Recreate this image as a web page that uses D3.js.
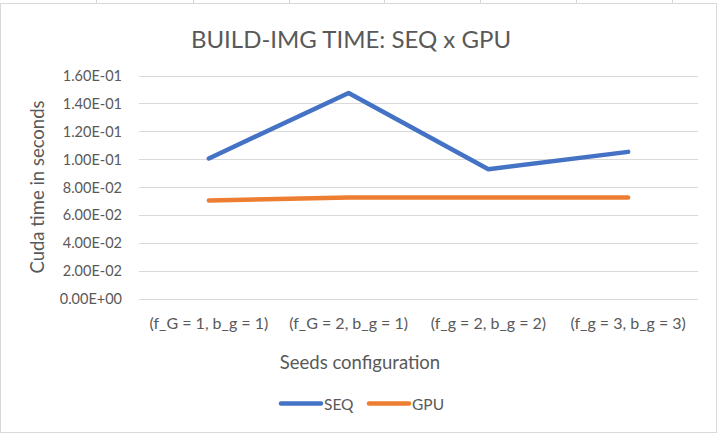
<!DOCTYPE html>
<html><head><meta charset="utf-8">
<script src="https://cdn.jsdelivr.net/npm/d3@7"></script>
<style>body{margin:0;background:#fff}svg{display:block}</style>
</head><body>
<script>
const categories = ["(f_G = 1, b_g = 1)", "(f_G = 2, b_g = 1)", "(f_g = 2, b_g = 2)", "(f_g = 3, b_g = 3)"];
const seqValues = [0.1005, 0.1475, 0.0928, 0.1052];
const gpuValues = [0.0704, 0.0725, 0.0725, 0.0725];
const yTicks = [0, 0.02, 0.04, 0.06, 0.08, 0.10, 0.12, 0.14, 0.16];
const seriesNames = ["SEQ", "GPU"];
const colors = ["#4472C4", "#ED7D31"];

const W = 721, H = 434;
const svg = d3.select("body").append("svg").attr("width", W).attr("height", H);
const font = "Lato, 'Open Sans', sans-serif";
const txt = "#595959";

// chart border
svg.append("rect").attr("x", 0.5).attr("y", 3.5).attr("width", W - 5).attr("height", H - 5)
  .attr("fill", "#fff").attr("stroke", "#d9d9d9");
// faint spreadsheet cell lines at top
[96, 193, 289, 384, 480, 576, 672].forEach(x =>
  svg.append("line").attr("x1", x + 0.5).attr("x2", x + 0.5).attr("y1", 0).attr("y2", 3).attr("stroke", "#d4d4d4"));

const x = d3.scaleBand().domain(categories).range([139, 698]);
const y = d3.scaleLinear().domain([0, 0.16]).range([298.5, 75.5]);

// gridlines
svg.append("g").selectAll("line").data(yTicks).join("line")
  .attr("x1", 139).attr("x2", 698)
  .attr("y1", d => Math.round(y(d)) + 0.5).attr("y2", d => Math.round(y(d)) + 0.5)
  .attr("stroke", "#d9d9d9").attr("stroke-width", 1);

// y axis
const yAxis = svg.append("g").attr("transform", "translate(131,0)")
  .call(d3.axisLeft(y).tickValues(yTicks).tickSize(0).tickPadding(0)
    .tickFormat(d => d.toExponential(2).replace(/e([+-])(\d)$/, "E$10$2").toUpperCase()));
yAxis.select(".domain").remove();
yAxis.selectAll("text").attr("font-family", font).attr("font-size", 14.5).attr("fill", txt)
  .attr("x", -9).attr("dy", "0.35em");

// x axis
const xAxis = svg.append("g").attr("transform", "translate(0,298)")
  .call(d3.axisBottom(x).tickSize(0).tickPadding(0));
xAxis.select(".domain").remove();
xAxis.selectAll("text").attr("font-family", font).attr("font-size", 16).attr("fill", txt)
  .attr("y", 31).attr("dy", 0);

// lines
const line = d3.line().x((d, i) => x(categories[i]) + x.bandwidth() / 2).y(d => y(d));
[seqValues, gpuValues].forEach((vals, i) => {
  svg.append("path").datum(vals).attr("d", line)
    .attr("fill", "none").attr("stroke", colors[i]).attr("stroke-width", 4.5)
    .attr("stroke-linejoin", "round").attr("stroke-linecap", "round");
});

// title
svg.append("text").attr("x", 351).attr("y", 48).attr("text-anchor", "middle")
  .attr("font-family", font).attr("font-size", 24).attr("fill", txt)
  .text("BUILD-IMG TIME: SEQ x GPU");

// axis titles
svg.append("text").attr("transform", "translate(44,187) rotate(-90)").attr("text-anchor", "middle")
  .attr("font-family", font).attr("font-size", 18.5).attr("fill", txt).text("Cuda time in seconds");
svg.append("text").attr("x", 360).attr("y", 369).attr("text-anchor", "middle")
  .attr("font-family", font).attr("font-size", 18.5).attr("fill", txt).text("Seeds configuration");

// legend
const legX = [281, 369];
seriesNames.forEach((n, i) => {
  svg.append("line").attr("x1", legX[i]).attr("x2", legX[i] + 40).attr("y1", 403.5).attr("y2", 403.5)
    .attr("stroke", colors[i]).attr("stroke-width", 4.5).attr("stroke-linecap", "round");
  svg.append("text").attr("x", legX[i] + 43).attr("y", 409.5).attr("font-family", font)
    .attr("font-size", 15.5).attr("fill", txt).text(n);
});
</script>
</body></html>
